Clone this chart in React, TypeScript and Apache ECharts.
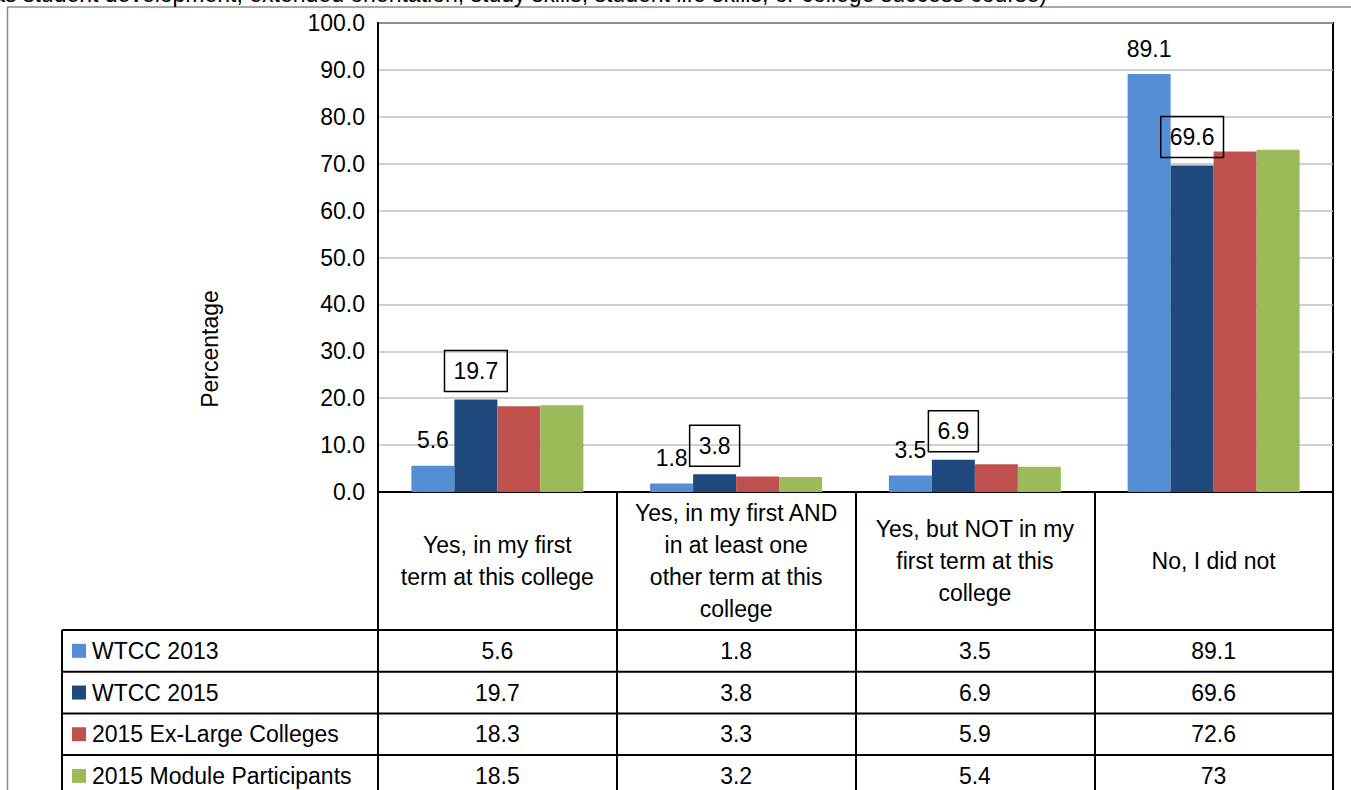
import React, { useEffect, useRef } from "react";
import * as echarts from "echarts";

const categories = [
  "Yes, in my first\nterm at this college",
  "Yes, in my first AND\nin at least one\nother term at this\ncollege",
  "Yes, but NOT in my\nfirst term at this\ncollege",
  "No, I did not",
];
const seriesNames = ["WTCC 2013", "WTCC 2015", "2015 Ex-Large Colleges", "2015 Module Participants"];
const wtcc2013 = [5.6, 1.8, 3.5, 89.1];
const wtcc2015 = [19.7, 3.8, 6.9, 69.6];
const exLarge2015 = [18.3, 3.3, 5.9, 72.6];
const module2015 = [18.5, 3.2, 5.4, 73];
const seriesColors = ["#558ED5", "#1F497D", "#C0504D", "#9BBB59"];
const yTicks = { min: 0, max: 100, interval: 10 };
const yAxisTitle = "Percentage";
const titleFragment =
  "such as student development, extended orientation, study skills, student life skills, or college success course)";

const FONT = "'Liberation Sans', Arial, sans-serif";
const GRID_LEFT = 378;
const GRID_TOP = 23;
const GRID_W = 955;
const GRID_H = 469;
const TABLE_TOP = 630;
const ROW_H = 41.7;
const LEGEND_LEFT = 62;

export default function App() {
  const ref = useRef<HTMLDivElement>(null);
  useEffect(() => {
    const chart = echarts.init(ref.current!, null, { renderer: "svg" });
    const allSeries = [wtcc2013, wtcc2015, exLarge2015, module2015];

    const graphic: any[] = [];
    // outer chart border (gray)
    graphic.push({ type: "line", shape: { x1: 7.5, y1: 7, x2: 7.5, y2: 800 }, style: { stroke: "#8c8c8c", lineWidth: 1.5 } });
    graphic.push({ type: "line", shape: { x1: 7, y1: 7, x2: 1351, y2: 7 }, style: { stroke: "#8c8c8c", lineWidth: 1.5 } });
    // cut-off heading (continued from above the visible area)
    graphic.push({
      type: "text",
      x: 1047,
      y: -6,
      style: { text: titleFragment, font: `23px ${FONT}`, fill: "#000", align: "right", verticalAlign: "middle" },
    });
    // y axis title
    graphic.push({
      type: "text",
      x: 210,
      y: 349,
      rotation: Math.PI / 2,
      style: { text: yAxisTitle, font: `23px ${FONT}`, fill: "#000", align: "center", verticalAlign: "middle" },
    });
    // table lines
    for (let i = 0; i <= 4; i++) {
      const y = TABLE_TOP + i * ROW_H;
      graphic.push({ type: "line", shape: { x1: LEGEND_LEFT, y1: y, x2: GRID_LEFT + GRID_W, y2: y }, style: { stroke: "#000", lineWidth: 2 } });
    }
    graphic.push({ type: "line", shape: { x1: LEGEND_LEFT, y1: TABLE_TOP, x2: LEGEND_LEFT, y2: 800 }, style: { stroke: "#000", lineWidth: 2 } });
    const colW = GRID_W / categories.length;
    allSeries.forEach((vals, s) => {
      const cy = TABLE_TOP + (s + 0.5) * ROW_H;
      graphic.push({ type: "rect", shape: { x: 72, y: cy - 7, width: 14, height: 14 }, style: { fill: seriesColors[s] } });
      graphic.push({
        type: "text",
        x: 92,
        y: cy,
        style: { text: seriesNames[s], font: `23px ${FONT}`, fill: "#000", align: "left", verticalAlign: "middle" },
      });
      vals.forEach((v, j) => {
        graphic.push({
          type: "text",
          x: GRID_LEFT + (j + 0.5) * colW,
          y: cy,
          style: { text: String(v), font: `23px ${FONT}`, fill: "#000", align: "center", verticalAlign: "middle" },
        });
      });
    });

    const option: any = {
      animation: false,
      backgroundColor: "#fff",
      textStyle: { fontFamily: FONT },
      grid: {
        left: GRID_LEFT,
        top: GRID_TOP,
        width: GRID_W,
        height: GRID_H,
        show: true,
        borderColor: "#000",
        borderWidth: 2,
        containLabel: false,
      },
      xAxis: {
        type: "category",
        data: categories,
        boundaryGap: true,
        axisLine: { show: true, lineStyle: { color: "#000", width: 2 } },
        axisTick: { show: true, length: 310, lineStyle: { color: "#000", width: 2 } },
        axisLabel: {
          interval: 0,
          fontSize: 23,
          lineHeight: 32,
          color: "#000",
          margin: 69,
          verticalAlign: "middle",
          align: "center",
          fontFamily: FONT,
        },
        splitLine: { show: false },
      },
      yAxis: {
        type: "value",
        min: yTicks.min,
        max: yTicks.max,
        interval: yTicks.interval,
        axisLine: { show: true, lineStyle: { color: "#000", width: 2 } },
        axisTick: { show: false },
        axisLabel: {
          fontSize: 23,
          color: "#000",
          margin: 13,
          fontFamily: FONT,
          formatter: (v: number) => v.toFixed(1),
        },
        splitLine: { show: true, lineStyle: { color: "#bfbfbf", width: 1.5 } },
      },
      series: allSeries.map((vals, s) => ({
        type: "bar",
        name: seriesNames[s],
        data: vals,
        barWidth: 43,
        barGap: "0%",
        itemStyle: { color: seriesColors[s] },
        label:
          s === 0
            ? { show: true, position: "top", distance: 14, fontSize: 23, color: "#000", fontFamily: FONT }
            : s === 1
            ? {
                show: true,
                position: "top",
                distance: 8,
                fontSize: 23,
                color: "#000",
                fontFamily: FONT,
                borderColor: "#000",
                borderWidth: 1.5,
                padding: [9, 9, 9, 9],
              }
            : { show: false },
      })),
      graphic,
    };
    chart.setOption(option);
    return () => chart.dispose();
  }, []);
  return (
    <div
      ref={ref}
      style={{ position: "absolute", left: 0, top: 0, width: 1351, height: 790, background: "#fff" }}
    />
  );
}
